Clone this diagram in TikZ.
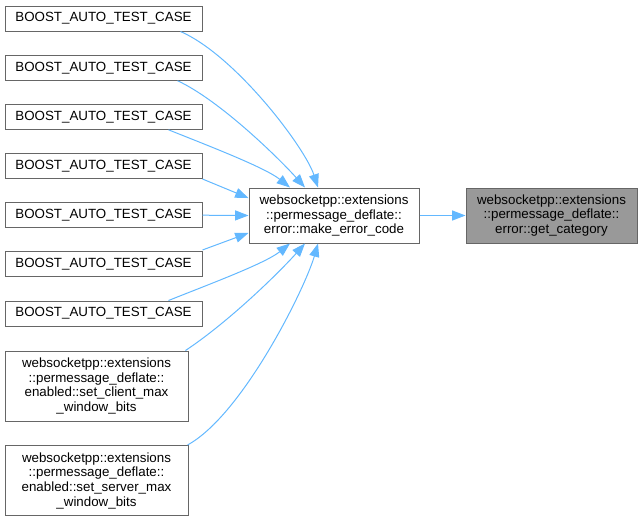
\documentclass[tikz,border=0pt]{standalone}
\usepackage{fontspec}
\setmainfont{Liberation Sans}
\usetikzlibrary{arrows.meta}
\definecolor{boxline}{HTML}{666666}
\definecolor{callblue}{HTML}{63B8FF}
\definecolor{focusfill}{HTML}{999999}

\begin{document}
\begin{tikzpicture}[x=0.75pt, y=-0.75pt,
	box/.style={draw=boxline, line width=0.75pt, fill=white, font=\fontsize{10}{11}\selectfont, align=center, inner sep=0pt},
	testbox/.style={box, minimum width=147.75pt, minimum height=18.75pt},
	setbox/.style={box, minimum width=137.25pt, minimum height=52.5pt},
	funcbox/.style={box, minimum width=127.5pt, minimum height=41.25pt},
	call/.style={draw=callblue, line width=0.75pt, -{Triangle[length=10pt, width=7.5pt]}}]
	\useasboundingbox (0,0) rectangle (642,522);
	\foreach \i/\y in {1/18.5, 2/67.7, 3/116.8, 4/166, 5/215.2, 6/264.3, 7/313.5}
		\node [testbox] (t\i) at (103.5,\y) {BOOST\_AUTO\_TEST\_CASE};
	\node [setbox] (sc) at (96.5,386) {websocketpp::extensions\\::permessage\_deflate::\\enabled::set\_client\_max\\\_window\_bits};
	\node [setbox] (ss) at (96.5,480.5) {websocketpp::extensions\\::permessage\_deflate::\\enabled::set\_server\_max\\\_window\_bits};
	\node [funcbox] (mk) at (334,215.5) {websocketpp::extensions\\::permessage\_deflate::\\error::make\_error\_code};
	\node [funcbox, fill=focusfill, minimum width=128.25pt] (gc) at (551.5,215.5) {websocketpp::extensions\\::permessage\_deflate::\\error::get\_category};
	\draw [call] ([xshift=-16.5pt]t1.south east) .. controls +(55,24) and +(-13,-40) .. ([xshift=-12pt]mk.north);
	\draw [call] ([xshift=-18.75pt]t2.south east) .. controls +(43,20) and +(-25,-28) .. ([xshift=-21.75pt]mk.north);
	\draw [call] ([xshift=-25.5pt]t3.south east) .. controls +(40,16) and +(-25,-20) .. ([xshift=-33pt]mk.north);
	\draw [call] (t4.south east) -- ([yshift=13.1pt]mk.west);
	\draw [call] (t5.east) -- (mk.west);
	\draw [call] ([yshift=1pt]t6.north east) -- ([yshift=-13.1pt]mk.west);
	\draw [call] ([xshift=-25.5pt]t7.north east) .. controls +(40,-16) and +(-25,20) .. ([xshift=-33pt]mk.south);
	\draw [call] ([xshift=-2.25pt]sc.north east) .. controls +(45,-30) and +(-25,28) .. ([xshift=-21.75pt]mk.south);
	\draw [call] ([xshift=-0.75pt]ss.north east) .. controls +(55,-30) and +(-13,45) .. ([xshift=-12pt]mk.south);
	\draw [call] (mk.east) -- (gc.west);
\end{tikzpicture}
\end{document}
